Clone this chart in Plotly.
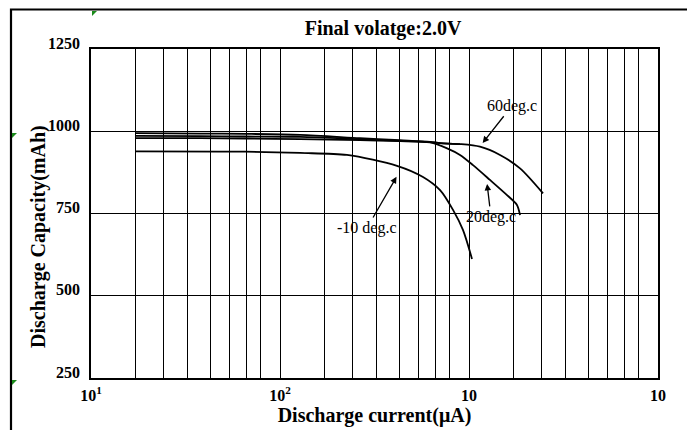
import numpy as np
import plotly.graph_objects as go

# ---------------- data ----------------
# discharge current (uA) and capacity (mAh)
x_60 = [17.3, 37.8, 65.3, 128, 265, 431, 622, 703, 896, 1143, 1459, 1862, 2465]
y_60 = [994, 993, 992, 989, 979, 973, 968, 964, 961, 953, 928, 887, 811]

x_mid = [17.3, 37.8, 65.3, 128, 265, 431, 622, 703, 896]
y_mid = [979, 979, 978, 976, 973, 970, 967, 964, 961]

x_20 = [17.3, 37.8, 65.3, 128, 265, 431, 622, 766, 896, 1050, 1291, 1589, 1794, 1862]
y_20 = [986, 985, 984, 983, 976, 971, 966, 948, 928, 897, 852, 806, 776, 745]

x_m10 = [17.3, 65.3, 128, 226, 416, 571, 703, 823, 929, 1037]
y_m10 = [939, 938, 934, 928, 895, 861, 821, 761, 700, 612]

y_ticks = [250, 500, 750, 1000, 1250]
x_ticks = [10, 100, 1000, 10000]
x_tick_text = ["10<sup>1</sup>", "10<sup>2</sup>", "10", "10"]
grid_mult = [1.716, 2.404, 3.234, 4.28, 5.415, 6.636, 7.902]   # solid minor grid lines per decade
dotted_vals = [90, 900, 9000]

# ---------------- figure ----------------
FONT = "Liberation Serif"
fig = go.Figure()
for xs, ys, nm in [(x_60, y_60, "60deg.c"), (x_mid, y_mid, "mid"),
                   (x_20, y_20, "20deg.c"), (x_m10, y_m10, "-10 deg.c")]:
    fig.add_trace(go.Scatter(x=xs, y=ys, mode="lines", name=nm,
                             line=dict(color="black", width=1.8, shape="spline", smoothing=0.8),
                             showlegend=False, hoverinfo="skip"))

minor_vals = [m * d for d in [10, 100, 1000] for m in grid_mult]

fig.update_xaxes(type="log", range=[1, 4], tickmode="array", tickvals=x_ticks,
                 ticktext=[f"<b>{t}</b>" for t in x_tick_text],
                 showgrid=True, gridcolor="black", gridwidth=1.3,
                 showline=True, linecolor="black", linewidth=1.5, mirror=True,
                 ticks="", ticklabelstandoff=2, automargin=False,
                 tickfont=dict(family=FONT, size=16, color="black"),
                 minor=dict(tickmode="array", tickvals=minor_vals, showgrid=True,
                            gridcolor="black", gridwidth=1.3, ticks=""),
                 title=dict(text="<b>Discharge current(μA)</b>", standoff=4,
                            font=dict(family=FONT, size=20, color="black")),
                 zeroline=False)
fig.update_yaxes(range=[250, 1250], tickmode="array", tickvals=y_ticks,
                 ticktext=[f"<b>{v}</b>" for v in y_ticks],
                 showgrid=True, gridcolor="black", gridwidth=1.3,
                 showline=True, linecolor="black", linewidth=1.5, mirror=True,
                 ticks="", ticklabelposition="outside", ticklabelshift=-6,
                 ticklabelstandoff=6, automargin=False,
                 tickfont=dict(family=FONT, size=16, color="black"),
                 zeroline=False)

# y-axis title (placed lower than the plot centre, as in the reference)
fig.add_annotation(text="<b>Discharge Capacity(mAh)</b>", textangle=-90,
                   xref="paper", yref="paper", x=(38 - 91) / 567, y=(378 - 237) / 329,
                   xanchor="center", yanchor="middle", showarrow=False,
                   font=dict(family=FONT, size=20, color="black"))

for v in dotted_vals:
    fig.add_shape(type="line", xref="x", yref="paper", x0=np.log10(v), x1=np.log10(v),
                  y0=0, y1=1, line=dict(color="black", width=1.3, dash="dot"), layer="below")

# outer frame (table cell)
fig.add_shape(type="rect", xref="paper", yref="paper",
              x0=(11 - 91) / 567, x1=(690 - 91) / 567, y0=-0.25, y1=(378 - 9.5) / 329,
              line=dict(color="black", width=2.2), fillcolor="rgba(0,0,0,0)")

# small green markers
def tri(px, py, s=5):
    x0 = (px - 91) / 567; y0 = (378 - py) / 329
    dx = s / 567; dy = s / 329
    return f"M{x0},{y0} L{x0+dx},{y0} L{x0},{y0-dy} Z"
for px, py in [(92, 11), (12, 133), (12, 380)]:
    fig.add_shape(type="path", xref="paper", yref="paper", path=tri(px, py),
                  fillcolor="#1a8a1a", line=dict(width=0))

ann_font = dict(family=FONT, size=16, color="black")
labels = [("60deg.c", 1172, 962, 30, -38),
          ("20deg.c", 1245, 843, 4, 34),
          ("-10 deg.c", 416, 864, -30, 52)]
for txt, xv, yv, ax, ay in labels:
    fig.add_annotation(x=np.log10(xv), y=yv, xref="x", yref="y", text=txt,
                       showarrow=True, ax=ax, ay=ay, arrowhead=2, arrowsize=1,
                       arrowwidth=1.3, arrowcolor="black", font=ann_font, standoff=1)

fig.update_layout(
    width=695, height=430,
    margin=dict(l=83, r=45, t=41, b=60),
    paper_bgcolor="white", plot_bgcolor="white",
    title=dict(text="<b>Final volatge:2.0V</b>", x=375 / 695, xanchor="center",
               y=1 - 20 / 430, yanchor="middle",
               font=dict(family=FONT, size=20, color="black")),
)

fig.write_html("out.html")
